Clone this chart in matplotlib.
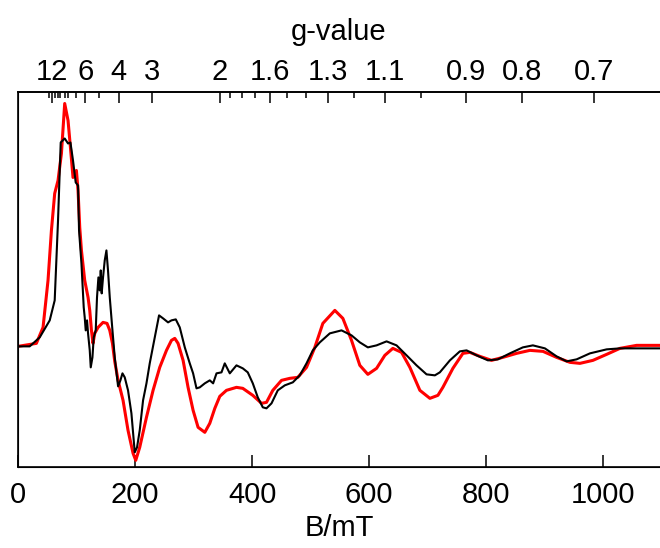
import matplotlib
matplotlib.use("Agg")
import matplotlib.pyplot as plt
import numpy as np

plt.rcParams['font.family'] = ['Liberation Sans', 'DejaVu Sans']

# Black spectrum (field in mT, intensity in arbitrary units)
black_B = [0, 20, 37.1, 54.2, 62.7, 68.4, 73, 79.8, 85.5, 89.6, 94, 98.6, 102.6, 104.3,
           108.4, 112.3, 114, 115.7, 118, 119.7, 122.6, 124.3, 127.2, 129.4, 132.8, 135,
           137.4, 139.7, 141.4, 143, 145.3, 148.2, 151.1, 153.8, 156.8, 161.4, 165.3, 171,
           175, 178.5, 182.4, 188, 193.8, 199.5,
           203.4, 208, 213.7, 219.5, 225.1, 233.7, 241, 247.9, 256.4, 262.2, 269.6, 276.4,
           285, 293.5, 299.2, 305, 310.6, 319.2, 327.7, 333.4, 339.2, 347.7, 353.3, 361.9,
           373.3, 384.1, 392.6, 401.2, 409.7, 418.3, 424.6, 433.2, 443.9, 455.9, 469.6, 481.5,
           493, 503.8, 515.7, 532.8, 552.8, 569.9, 584.1, 597.8, 612.7, 629.8, 646.8, 664,
           681, 698.1, 712.3, 720.8, 738, 755, 766.5, 783.6, 803, 820, 840.5, 862.7, 879.8,
           900.3, 920.3, 937.4, 954.5, 977.3, 1005.8, 1028.6, 1097]
black_I = [0, 0, 9, 26, 46, 126, 204, 208, 203, 204, 186, 164, 161, 116,
           83, 39, 29, 16, 26, 13, -4, -21, -11, 9, 16, 49,
           69, 56, 76, 53, 69, 86, 96, 76, 49, 16, -11, -40,
           -34, -27, -31, -44, -67, -106,
           -101, -84, -54, -37, -17, 9, 31, 28, 24, 26, 27, 19,
           -1, -17, -27, -42, -41, -37, -34, -37, -27, -26, -17, -27,
           -19, -22, -26, -37, -51, -61, -62, -57, -44, -39, -36, -29,
           -17, -4, 4, 13, 16, 11, 4, -1, 1, 5, 1, -9,
           -19, -28, -29, -26, -14, -5, -4, -9, -14, -13, -7, -1, 1,
           -2, -10, -15, -13, -7, -3, -2, -2]

# Red spectrum
red_B = [0, 31.4, 42.8, 51.3, 57.1, 62.7, 68.4, 74.2, 79.8, 85.5, 89.6, 94, 99.8, 102.6,
         105.5, 108.4, 114, 119.7, 122.6, 125.5, 128.2, 131.1, 136.8, 145.3, 152.1,
         156.8, 161.4, 165.3, 171, 179.5, 188, 196.6, 201.2, 208, 219.5, 230.8, 242.2, 253.7,
         262.2, 267.9, 273.5, 282.1, 290.6, 299.2, 307.7, 319.2, 327.7, 336.3, 344.8, 356.2,
         373.3, 384.1, 401.2, 416.1, 424.6, 435.4, 450.3, 464.4, 478.1, 493, 507.2, 520.9,
         541.4, 555.1, 569.9, 584.1, 597.8, 612.7, 626.8, 640.5, 655.4, 669.6, 686.7, 703.8,
         717.5, 726, 743.1, 760.2, 772.1, 789.2, 809.2, 828.5, 851.9, 874.7, 897, 920.3,
         943.1, 960.2, 982.4, 1005.8, 1028.6, 1057, 1097]
red_I = [0, 3, 19, 66, 116, 153, 166, 193, 243, 226, 199, 169, 176, 156,
         119, 96, 66, 49, 36, 16, 3, 13, 19, 24, 23,
         16, 3, -15, -34, -54, -84, -107, -114, -101, -71, -44, -21, -4,
         6, 8, 3, -14, -41, -64, -81, -86, -77, -62, -50, -44,
         -41, -42, -49, -57, -56, -44, -34, -32, -31, -21, -1, 23,
         36, 28, 6, -19, -28, -22, -9, -2, -6, -21, -44, -52,
         -49, -41, -22, -7, -6, -10, -14, -11, -7, -4, -5, -11,
         -16, -17, -14, -8, -2, 1, 1]

# Bottom axis ticks
field_ticks = [0, 200, 400, 600, 800, 1000]
# Top axis: g-values (B = H_CONST / g, in mT)
H_CONST = 689.0
g_major = [12, 6, 4, 3, 2, 1.6, 1.3, 1.1, 0.9, 0.8, 0.7]
g_major_labels = ["12", "6", "4", "3", "2", "1.6", "1.3", "1.1", "0.9", "0.8", "0.7"]
g_minor = [13, 11, 10, 9.5, 8.5, 8, 7, 5, 1.9, 1.8, 1.7, 1.5, 1.4, 1.2, 1.0]

fig = plt.figure(figsize=(6.6, 5.48), dpi=100)
ax = fig.add_axes([18 / 660, 1 - 467.3 / 548, 642 / 660, (467.3 - 91.5) / 548])

ax.plot(red_B, red_I, color='#ff0000', lw=2.2, zorder=2)
ax.plot(black_B, black_I, color='black', lw=1.5, zorder=3)

ax.set_xlim(0, 1097)
ax.set_ylim(-121, 255)
ax.set_yticks([])
ax.spines['right'].set_visible(False)
for s in ['left', 'top', 'bottom']:
    ax.spines[s].set_linewidth(1.2)

FS = 21
ax.set_xticks(field_ticks)
ax.set_xticklabels([str(v) for v in field_ticks])
ax.tick_params(axis='x', direction='in', length=8.6, width=1.1, pad=10, labelsize=FS)
ax.set_xlabel('B/mT', fontsize=FS, labelpad=3.5)

ax2 = ax.twiny()
ax2.set_xlim(ax.get_xlim())
ax2.spines['right'].set_visible(False)
ax2.spines['top'].set_linewidth(1.2)
ax2.set_xticks([H_CONST / g for g in g_major])
ax2.set_xticklabels(g_major_labels)
ax2.set_xticks([H_CONST / g for g in g_minor], minor=True)
ax2.tick_params(axis='x', which='major', direction='in', length=8, width=1.1, pad=4, labelsize=FS)
ax2.tick_params(axis='x', which='minor', direction='in', length=4.3, width=1.1)
ax2.set_xlabel('g-value', fontsize=FS, labelpad=13)

fig.savefig('out.png', dpi=100)
